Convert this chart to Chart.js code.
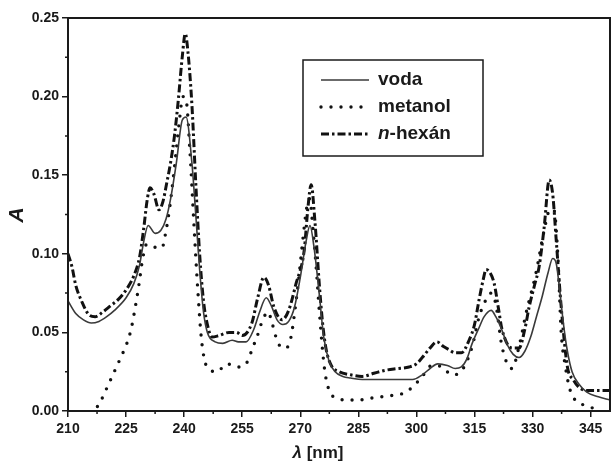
<!DOCTYPE html>
<html lang="sk">
<head>
    <meta charset="UTF-8">
    <title>UV spektrum</title>
    <script src="https://cdn.jsdelivr.net/npm/chart.js"></script>
    <style>
        body { margin: 0; background: #fff; }
        #wrap { width: 611px; height: 463px; }
    </style>
</head>
<body>
    <div id="wrap"><canvas id="spectrum"></canvas></div>
    <script>
        // values
        const vodaNm = [210, 212, 214, 216, 218, 220, 222, 225, 227, 228.5, 229.5, 230.7, 232.5, 234, 235.3, 236.5, 238, 239.5, 240.5, 242,
            243, 244, 245, 246, 248, 250, 252.4, 254, 256, 258, 259.5, 261.2, 262.5, 264, 265.5, 267, 268.5, 270, 271.5, 272.5,
            273.5, 275, 276, 277.4, 279, 281, 283, 286, 290, 295, 299, 301.5, 303.5, 305.5, 308, 310, 311.6, 313, 314.4, 316,
            317.5, 319.3, 320.5, 322, 323.5, 325, 326.5, 328, 329.5, 331, 332.5, 334, 335.2, 336.1, 337, 338, 339, 340.2, 342, 344,
            347, 350];
        const vodaA = [0.070, 0.062, 0.058, 0.056, 0.057, 0.060, 0.064, 0.072, 0.081, 0.093, 0.107, 0.118, 0.113, 0.115, 0.122, 0.135, 0.158, 0.185, 0.187, 0.158,
            0.125, 0.090, 0.063, 0.050, 0.044, 0.043, 0.045, 0.044, 0.044, 0.052, 0.063, 0.072, 0.067, 0.058, 0.055, 0.057, 0.066, 0.085, 0.108, 0.118,
            0.105, 0.072, 0.048, 0.032, 0.025, 0.022, 0.021, 0.020, 0.020, 0.020, 0.020, 0.023, 0.027, 0.030, 0.029, 0.027, 0.028, 0.033, 0.043, 0.052,
            0.060, 0.064, 0.060, 0.052, 0.042, 0.036, 0.034, 0.038, 0.047, 0.060, 0.073, 0.088, 0.097, 0.094, 0.077, 0.055, 0.038, 0.025, 0.017, 0.012,
            0.009, 0.007];

        const metanolNm = [216.5, 217.2, 218.8, 220.1, 221.4, 222.7, 224, 225.2, 226.3, 227.3, 228.3, 229.3, 230.3, 231.5, 233, 234.3, 235.2, 236.3, 237.5, 238.7,
            239.7, 240.5, 241.5, 242.5, 243.5, 244.5, 245.9, 248.5, 251, 254.2, 256.5, 257.5, 258.8, 260.3, 261.7, 262.7, 264.3, 266.3, 267.6, 268.4,
            269.5, 270.7, 271.7, 272.4, 273.3, 274.3, 274.9, 276.2, 277.2, 279.5, 282.6, 285.2, 287.8, 291, 294, 296.3, 298.9, 301.5, 304, 306.6,
            309.2, 311.8, 314.4, 316.2, 318, 319.3, 320.5, 322.1, 324.7, 326.5, 328.3, 330.9, 333, 334.5, 335.5, 336.5, 337.4, 338.5, 339.5, 340.7,
            343, 345.4, 348];
        const metanolA = [-0.003, 0.001, 0.008, 0.015, 0.022, 0.029, 0.036, 0.043, 0.052, 0.065, 0.080, 0.097, 0.106, 0.105, 0.104, 0.104, 0.113, 0.130, 0.155, 0.183,
            0.200, 0.198, 0.165, 0.120, 0.078, 0.045, 0.028, 0.025, 0.030, 0.028, 0.032, 0.039, 0.047, 0.058, 0.063, 0.056, 0.043, 0.040, 0.047, 0.060,
            0.082, 0.110, 0.130, 0.135, 0.115, 0.085, 0.064, 0.028, 0.015, 0.008, 0.007, 0.007, 0.008, 0.009, 0.010, 0.011, 0.015, 0.022, 0.029, 0.028,
            0.023, 0.026, 0.041, 0.060, 0.071, 0.075, 0.068, 0.041, 0.027, 0.041, 0.062, 0.088, 0.115, 0.128, 0.128, 0.100, 0.050, 0.028, 0.015, 0.008,
            0.004, 0.002, -0.003];

        const hexanNm = [210, 211, 212, 213.5, 215.5, 217, 219, 221, 223, 225, 227, 228.5, 229.5, 230.5, 231.2, 232.2, 233.5, 234.5, 235.5, 236.5,
            237.5, 238.5, 239.5, 240.3, 241, 242, 243, 244, 245, 246, 247.2, 249, 251.6, 253.5, 255, 257.5, 259, 260.6, 261.8, 263.2,
            265.3, 267, 268.9, 271, 272, 272.8, 273.8, 274.9, 275.8, 276.7, 278, 280, 283, 286, 289, 292.2, 295, 298.1, 300, 301.5,
            303.5, 305.3, 307, 308.4, 310, 311.6, 313.6, 315, 316.2, 317.2, 318, 319, 320.1, 321.2, 322.1, 324.7, 326.5, 328, 329.1, 330.5,
            331.7, 333, 334.3, 335.2, 336.1, 337.4, 339, 340.5, 342, 345, 350];
        const hexanA = [0.100, 0.092, 0.080, 0.070, 0.061, 0.060, 0.063, 0.067, 0.071, 0.077, 0.086, 0.098, 0.115, 0.135, 0.142, 0.138, 0.128, 0.133, 0.145, 0.158,
            0.175, 0.198, 0.225, 0.240, 0.228, 0.195, 0.145, 0.100, 0.070, 0.055, 0.047, 0.048, 0.050, 0.050, 0.048, 0.056, 0.072, 0.085, 0.080, 0.066,
            0.058, 0.064, 0.081, 0.102, 0.130, 0.144, 0.120, 0.081, 0.055, 0.039, 0.029, 0.025, 0.023, 0.022, 0.024, 0.026, 0.027, 0.028, 0.030, 0.034,
            0.040, 0.044, 0.041, 0.039, 0.037, 0.037, 0.045, 0.055, 0.071, 0.083, 0.090, 0.088, 0.081, 0.065, 0.052, 0.040, 0.040, 0.052, 0.066, 0.080,
            0.092, 0.117, 0.147, 0.138, 0.109, 0.066, 0.028, 0.020, 0.015, 0.013, 0.013];

        const seriesNames = ['voda', 'metanol', 'n-hexán'];

        const toPoints = (xs, ys) => xs.map((v, i) => ({ x: v, y: ys[i] }));

        const FONT = '"Liberation Sans", Arial, sans-serif';
        const INK = '#1a1a1a';

        const decorations = {
            id: 'decorations',
            afterDraw(chart) {
                const { ctx, chartArea: a, scales: { x, y } } = chart;
                ctx.save();

                // frame around plot
                ctx.strokeStyle = INK;
                ctx.lineWidth = 2;
                ctx.strokeRect(a.left, a.top, a.right - a.left, a.bottom - a.top);

                // minor ticks
                ctx.lineWidth = 1.5;
                ctx.beginPath();
                for (let v = 217.5; v < 350; v += 15) {
                    const px = x.getPixelForValue(v);
                    ctx.moveTo(px, a.bottom);
                    ctx.lineTo(px, a.bottom + 3);
                }
                for (let v = 0.025; v < 0.25; v += 0.05) {
                    const py = y.getPixelForValue(v);
                    ctx.moveTo(a.left, py);
                    ctx.lineTo(a.left - 3, py);
                }
                ctx.stroke();

                // legend box
                ctx.lineWidth = 1.5;
                ctx.strokeRect(303, 60, 180, 96);
                const rows = [80, 107, 134];
                chart.data.datasets.forEach((ds, i) => {
                    ctx.save();
                    ctx.strokeStyle = ds.borderColor;
                    ctx.lineWidth = ds.borderWidth;
                    ctx.lineCap = ds.borderCapStyle || 'butt';
                    ctx.setLineDash(ds.borderDash || []);
                    ctx.beginPath();
                    ctx.moveTo(321, rows[i]);
                    ctx.lineTo(369, rows[i]);
                    ctx.stroke();
                    ctx.restore();
                });
                ctx.fillStyle = INK;
                ctx.textBaseline = 'middle';
                ctx.font = 'bold 19px ' + FONT;
                ctx.fillText(seriesNames[0], 378, rows[0]);
                ctx.fillText(seriesNames[1], 378, rows[1]);
                ctx.font = 'italic bold 19px ' + FONT;
                ctx.fillText('n', 378, rows[2]);
                const nW = ctx.measureText('n').width;
                ctx.font = 'bold 19px ' + FONT;
                ctx.fillText('-hexán', 378 + nW, rows[2]);

                // axis titles
                ctx.save();
                ctx.translate(17, 215);
                ctx.rotate(-Math.PI / 2);
                ctx.textAlign = 'center';
                ctx.font = 'italic bold 21px ' + FONT;
                ctx.fillText('A', 0, 0);
                ctx.restore();

                ctx.font = 'italic bold 17px ' + FONT;
                const lW = ctx.measureText('λ').width;
                ctx.font = 'bold 17px ' + FONT;
                const rW = ctx.measureText(' [nm]').width;
                const sx = 318 - (lW + rW) / 2;
                ctx.font = 'italic bold 17px ' + FONT;
                ctx.fillText('λ', sx, 453);
                ctx.font = 'bold 17px ' + FONT;
                ctx.fillText(' [nm]', sx + lW, 453);

                ctx.restore();
            }
        };

        new Chart(document.getElementById('spectrum'), {
            type: 'line',
            data: {
                datasets: [
                    {
                        label: seriesNames[0],
                        data: toPoints(vodaNm, vodaA),
                        borderColor: '#3a3a3a',
                        borderWidth: 1.6,
                        pointRadius: 0,
                        cubicInterpolationMode: 'monotone'
                    },
                    {
                        label: seriesNames[1],
                        data: toPoints(metanolNm, metanolA),
                        borderColor: '#111',
                        borderWidth: 3.4,
                        borderDash: [0, 10],
                        borderCapStyle: 'round',
                        pointRadius: 0,
                        cubicInterpolationMode: 'monotone'
                    },
                    {
                        label: seriesNames[2],
                        data: toPoints(hexanNm, hexanA),
                        borderColor: '#111',
                        borderWidth: 3,
                        borderDash: [8, 3, 2.5, 3],
                        pointRadius: 0,
                        cubicInterpolationMode: 'monotone'
                    }
                ]
            },
            options: {
                responsive: true,
                maintainAspectRatio: false,
                animation: false,
                layout: { padding: { top: 18, right: 1, left: 0, bottom: 0 } },
                plugins: {
                    legend: { display: false },
                    tooltip: { enabled: false }
                },
                scales: {
                    x: {
                        type: 'linear',
                        min: 210,
                        max: 350,
                        afterFit: s => { s.height = 52; },
                        border: { display: false },
                        grid: { drawOnChartArea: false, tickLength: 6, color: INK, lineWidth: 1.5 },
                        ticks: {
                            stepSize: 15,
                            includeBounds: false,
                            padding: 4,
                            color: INK,
                            font: { family: FONT, size: 14, weight: 'bold' }
                        }
                    },
                    y: {
                        min: 0,
                        max: 0.25,
                        afterFit: s => { s.width = 68; },
                        border: { display: false },
                        grid: { drawOnChartArea: false, tickLength: 6, color: INK, lineWidth: 1.5 },
                        ticks: {
                            stepSize: 0.05,
                            padding: 3,
                            color: INK,
                            font: { family: FONT, size: 14, weight: 'bold' },
                            callback: v => v.toFixed(2)
                        }
                    }
                }
            },
            plugins: [decorations]
        });
    </script>
</body>
</html>
